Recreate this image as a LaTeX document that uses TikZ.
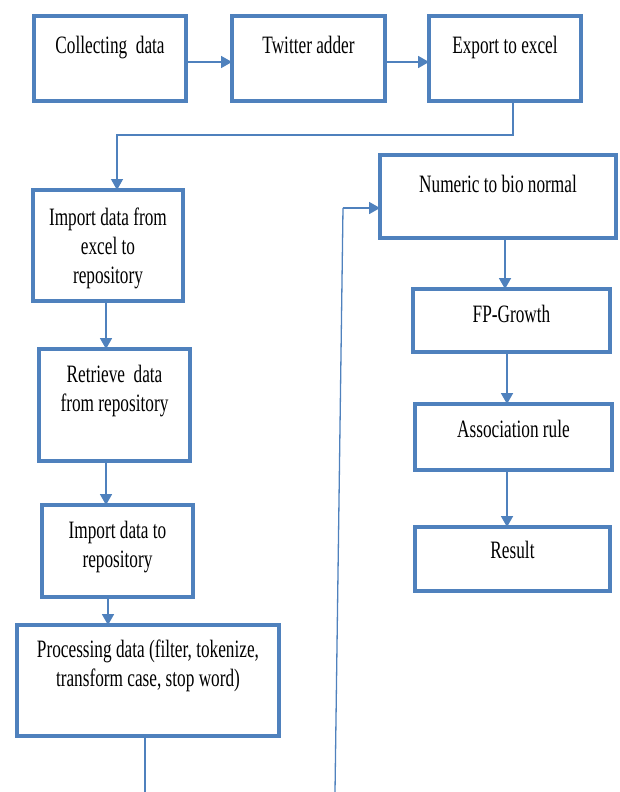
\documentclass[tikz,border=0pt]{standalone}
\usepackage{fontspec}
\setmainfont{Liberation Serif}[FakeStretch=0.69]
\usetikzlibrary{arrows.meta}
\definecolor{boxblue}{RGB}{79,129,189}
% box text: [baseline from top]{width}{height}{text}
\newcommand{\boxtxt}[4][33]{\parbox[c][#3pt][t]{#2pt}{\centering\rule{0pt}{#1pt}#4}}

\begin{document}
\begin{tikzpicture}
  [x=1pt,y=-1pt,
   every node/.style={font=\fontsize{25}{29}\selectfont},
   stepbox/.style={draw=boxblue,line width=4pt,inner sep=0pt,outer sep=0pt,anchor=north west},
   flow/.style={draw=boxblue,line width=1.8pt,-{Triangle[length=11pt,width=12pt]}},
   link/.style={draw=boxblue,line width=1.3pt}]
\useasboundingbox (0,0) rectangle (619,792);

% top row
\node (collect)[stepbox] at (34,16) {\boxtxt[38]{152}{85}{Collecting~ data}};
\node (twitter)[stepbox] at (232,16) {\boxtxt[38]{153}{85}{Twitter adder}};
\node (export)[stepbox] at (429,16) {\boxtxt[38]{152}{85}{Export to excel}};

% left column
\node (importexcel)[stepbox] at (33,190) {\boxtxt[35]{150}{111}{Import data from\\ excel to\\ repository}};
\node (retrieve)[stepbox] at (39,349) {\boxtxt[33]{151}{112}{Retrieve~ data\\ from repository}};
\node (importrepo)[stepbox] at (42,505) {\boxtxt[33]{151}{92}{Import data to\\ repository}};
\node (process)[stepbox] at (17,625) {\boxtxt[32]{262}{111}{Processing data (filter, tokenize,\\ transform case, stop word)}};

% right column
\node (numeric)[stepbox] at (380,155) {\boxtxt[37]{236}{83}{Numeric to bio normal}};
\node (fpgrowth)[stepbox] at (413,289) {\boxtxt[33]{197}{63}{FP-Growth}};
\node (assoc)[stepbox] at (415,404) {\boxtxt[33]{197}{66}{Association rule}};
\node (result)[stepbox] at (415,527) {\boxtxt[31]{195}{64}{Result}};

\coordinate (split) at (513,135);
\coordinate (outL) at (145,792);
\coordinate (inR) at (335,792);
\coordinate (turnR) at (343,208);

\foreach \from/\to in {collect/twitter,twitter/export}
  \draw[flow] ([yshift=-3.5pt]\from.east) -- ([yshift=-3.5pt]\to.west);
\foreach \from/\to/\x in {importexcel/retrieve/106,retrieve/importrepo/106,importrepo/process/108,
    numeric/fpgrowth/505,fpgrowth/assoc/507,assoc/result/507}
  \draw[flow] (\x,0 |- \from.south) -- (\x,0 |- \to.north);

\draw[flow,line width=1.3pt] (export.south -| split) -- (split) -| ([xshift=9pt]importexcel.north);
\draw[link] (process.south -| outL) -- (outL);
\draw[link] (inR) -- (turnR);
\draw[flow] (turnR) -- (turnR -| numeric.west);
\end{tikzpicture}
\end{document}
